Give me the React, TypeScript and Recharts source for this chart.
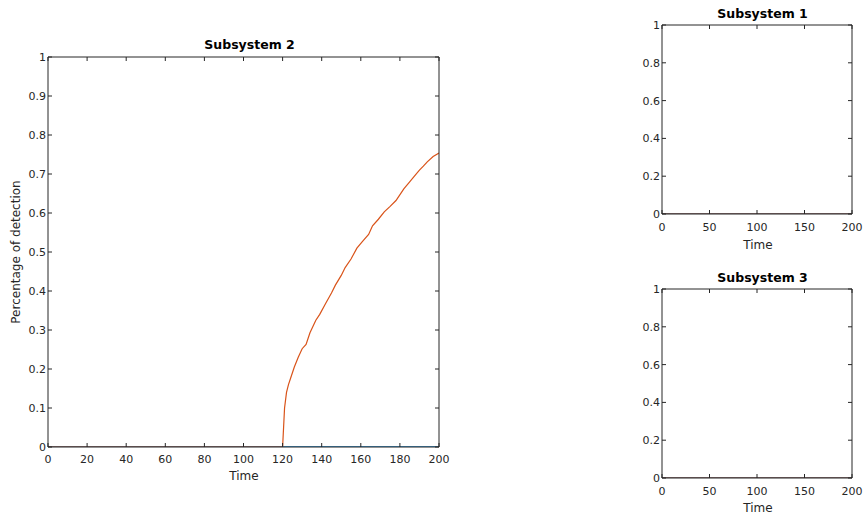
import React from 'react';
import { LineChart, Line, XAxis, YAxis } from 'recharts';

// subsystem 2 detection curve (orange)
const DET_TIME = [0, 120, 121, 122, 123, 124, 126, 128, 130, 132, 134, 137, 139, 142, 145, 147, 150, 152, 155, 158, 161, 164, 166, 169, 172, 175, 178, 182, 185, 187, 190, 192, 194, 197, 200];
const DET_VALUE = [0, 0, 0.1, 0.14, 0.16, 0.175, 0.205, 0.23, 0.252, 0.263, 0.293, 0.325, 0.34, 0.368, 0.395, 0.415, 0.44, 0.46, 0.482, 0.51, 0.528, 0.545, 0.567, 0.584, 0.603, 0.617, 0.632, 0.662, 0.68, 0.692, 0.71, 0.72, 0.731, 0.745, 0.754];

// flat series (blue in subsystem 2, both series in 1 and 3)
const FLAT_TIME = [0, 200];
const SUB2_BLUE = [0, 0];
const SUB1_BLUE = [0, 0];
const SUB1_ORANGE = [0, 0];
const SUB3_BLUE = [0, 0];
const SUB3_ORANGE = [0, 0];

const MAIN_X_TICKS = [0, 20, 40, 60, 80, 100, 120, 140, 160, 180, 200];
const MAIN_Y_TICKS = [0, 0.1, 0.2, 0.3, 0.4, 0.5, 0.6, 0.7, 0.8, 0.9, 1];
const SMALL_X_TICKS = [0, 50, 100, 150, 200];
const SMALL_Y_TICKS = [0, 0.2, 0.4, 0.6, 0.8, 1];

const BLUE = '#0072BD';
const ORANGE = '#D95319';
const AX = '#262626';
const FONT = '"DejaVu Sans", Verdana, sans-serif';

const toRows = (xs: number[], ys: number[]) => xs.map((t, i) => ({ t, v: ys[i] }));

type PanelProps = {
  left: number; top: number; width: number; height: number;
  margin: { top: number; right: number; bottom: number; left: number };
  yWidth: number; xTicks: number[]; yTicks: number[];
  blue: { t: number; v: number }[]; orange: { t: number; v: number }[];
  xMargin: number;
};

function Panel({ left, top, width, height, margin, yWidth, xTicks, yTicks, blue, orange, xMargin }: PanelProps) {
  const tick = { fontSize: 11, fill: AX, fontFamily: FONT };
  return (
    <div style={{ position: 'absolute', left, top, width, height }}>
      <LineChart width={width} height={height} margin={margin}>
        <XAxis xAxisId="b" type="number" dataKey="t" domain={[0, 200]} ticks={xTicks} interval={0} allowDataOverflow height={40} tickSize={-4} tickMargin={xMargin} tick={tick} stroke={AX} />
        <XAxis xAxisId="t" orientation="top" type="number" dataKey="t" domain={[0, 200]} ticks={xTicks} interval={0} allowDataOverflow height={1} tickSize={-4} tickFormatter={() => ''} stroke={AX} />
        <YAxis yAxisId="l" type="number" domain={[0, 1]} ticks={yTicks} interval={0} allowDataOverflow width={yWidth} tickSize={-4} tickMargin={6} tick={tick} stroke={AX} />
        <YAxis yAxisId="r" orientation="right" type="number" domain={[0, 1]} ticks={yTicks} interval={0} allowDataOverflow width={1} tickSize={-4} tickFormatter={() => ''} stroke={AX} />
        <Line xAxisId="b" yAxisId="l" data={blue} dataKey="v" type="linear" stroke={BLUE} strokeWidth={1.5} dot={false} isAnimationActive={false} />
        <Line xAxisId="b" yAxisId="l" data={orange} dataKey="v" type="linear" stroke={ORANGE} strokeWidth={1.2} dot={false} isAnimationActive={false} />
      </LineChart>
    </div>
  );
}

function Txt({ x, y, children, bold, size = 12, rotate }: { x: number; y: number; children: React.ReactNode; bold?: boolean; size?: number; rotate?: boolean }) {
  return (
    <div style={{
      position: 'absolute', left: x, top: y, transform: `translate(-50%, -50%)${rotate ? ' rotate(-90deg)' : ''}`,
      fontFamily: FONT, fontSize: size, fontWeight: bold ? 'bold' : 'normal', color: bold ? '#000' : AX,
      whiteSpace: 'nowrap', lineHeight: 1,
    }}>{children}</div>
  );
}

export default function App() {
  return (
    <div style={{ position: 'absolute', left: 0, top: 0, width: 866, height: 519, background: '#fff', overflow: 'hidden' }}>
      <Panel left={0} top={0} width={450} height={519} margin={{ top: 56, right: 10, bottom: 32, left: 0 }} yWidth={48}
        xTicks={MAIN_X_TICKS} yTicks={MAIN_Y_TICKS} blue={toRows(FLAT_TIME, SUB2_BLUE)} orange={toRows(DET_TIME, DET_VALUE)} xMargin={12} />
      <Panel left={620} top={0} width={246} height={260} margin={{ top: 24, right: 13, bottom: 6, left: 0 }} yWidth={42}
        xTicks={SMALL_X_TICKS} yTicks={SMALL_Y_TICKS} blue={toRows(FLAT_TIME, SUB1_BLUE)} orange={toRows(FLAT_TIME, SUB1_ORANGE)} xMargin={13.5} />
      <Panel left={620} top={260} width={246} height={259} margin={{ top: 28, right: 13, bottom: 1, left: 0 }} yWidth={42}
        xTicks={SMALL_X_TICKS} yTicks={SMALL_Y_TICKS} blue={toRows(FLAT_TIME, SUB3_BLUE)} orange={toRows(FLAT_TIME, SUB3_ORANGE)} xMargin={13.5} />

      <Txt x={249.5} y={45} bold size={12.5}>Subsystem 2</Txt>
      <Txt x={244} y={476}>Time</Txt>
      <Txt x={15.5} y={252} rotate>Percentage of detection</Txt>

      <Txt x={762.5} y={14} bold size={12.5}>Subsystem 1</Txt>
      <Txt x={758} y={244.5}>Time</Txt>

      <Txt x={762.5} y={278} bold size={12.5}>Subsystem 3</Txt>
      <Txt x={758} y={507.5}>Time</Txt>
    </div>
  );
}
